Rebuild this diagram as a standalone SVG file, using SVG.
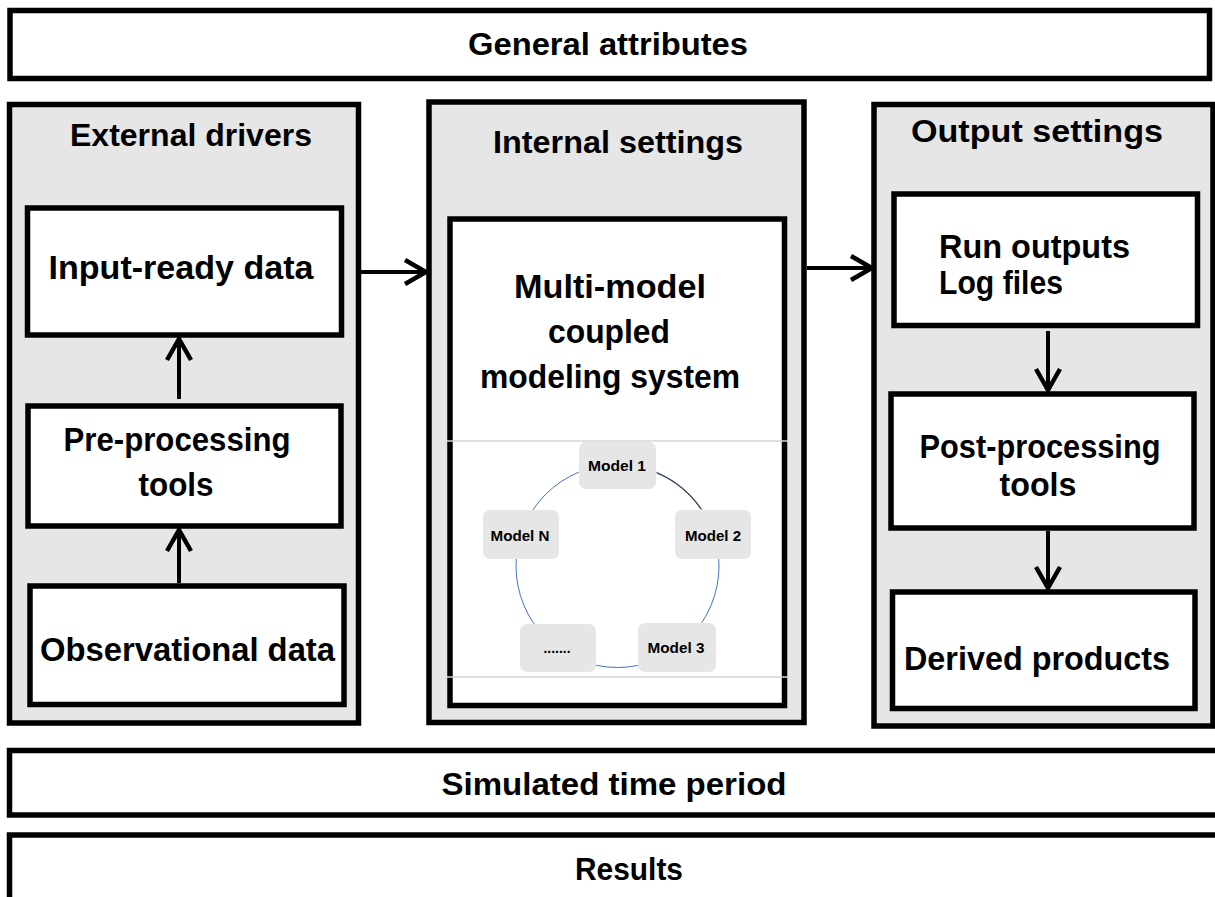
<svg xmlns="http://www.w3.org/2000/svg" width="1215" height="897" viewBox="0 0 1215 897">
<style>
.box{fill:#ffffff;stroke:#000;stroke-width:5.5}
.panel{fill:#e6e6e6;stroke:#000;stroke-width:5.5}
.t{font-family:"Liberation Sans",Arial,sans-serif;font-weight:bold;fill:#000;text-anchor:middle}
.ttl{font-size:31px}
.bt{font-size:34px}
.m{font-size:15px}
.mb{fill:#e6e6e6;stroke:none}
.conn{stroke:#000;stroke-width:4;fill:none;marker-end:url(#arr)}
.sep{stroke:#d4d4d4;stroke-width:1.5}
</style>
<defs>
<marker id="arr" markerUnits="userSpaceOnUse" markerWidth="32" markerHeight="32" viewBox="-28 -16 32 32" refX="0" refY="0" orient="auto">
<path d="M -21 -12 L 0 0 L -21 12" fill="none" stroke="#000" stroke-width="4.5" stroke-linejoin="miter"/>
</marker>
</defs>
<rect width="1215" height="897" fill="#fff"/>

<g id="general-attributes">
<rect class="box" x="10" y="10.5" width="1199.5" height="68"/>
<text class="t ttl" x="608" y="55" textLength="280" lengthAdjust="spacingAndGlyphs">General attributes</text>
</g>

<g id="external-drivers">
<rect class="panel" x="9.5" y="104.5" width="349" height="618.5"/>
<text class="t ttl" x="191" y="146" textLength="242" lengthAdjust="spacingAndGlyphs">External drivers</text>
</g>
<g id="input-ready-data">
<rect class="box" x="27.5" y="208" width="314" height="127"/>
<text class="t bt" x="181" y="279" textLength="265" lengthAdjust="spacingAndGlyphs">Input-ready data</text>
</g>
<g id="pre-processing-tools">
<rect class="box" x="28" y="406" width="313" height="120"/>
<text class="t bt" x="177" y="451" textLength="227" lengthAdjust="spacingAndGlyphs">Pre-processing</text>
<text class="t bt" x="176" y="496" textLength="75" lengthAdjust="spacingAndGlyphs">tools</text>
</g>
<g id="observational-data">
<rect class="box" x="30" y="586" width="314" height="118.5"/>
<text class="t bt" x="187.5" y="661" textLength="295" lengthAdjust="spacingAndGlyphs">Observational data</text>
</g>

<g id="internal-settings">
<rect class="panel" x="429" y="102" width="375" height="620.5"/>
<text class="t ttl" x="618" y="153" textLength="250" lengthAdjust="spacingAndGlyphs">Internal settings</text>
</g>
<g id="coupled-modeling-system">
<rect class="box" x="450" y="219" width="334.5" height="486.5"/>
<text class="t bt" x="610" y="298" textLength="192" lengthAdjust="spacingAndGlyphs">Multi-model</text>
<text class="t bt" x="609" y="343" textLength="122" lengthAdjust="spacingAndGlyphs">coupled</text>
<text class="t bt" x="610" y="388" textLength="260" lengthAdjust="spacingAndGlyphs">modeling system</text>
<line class="sep" x1="447" y1="441" x2="788" y2="441"/>
<line class="sep" x1="447" y1="677" x2="788" y2="677"/>
<circle cx="617.5" cy="566" r="101.5" fill="none" stroke="#4472c4" stroke-width="1"/>
<path d="M 657 473 A 101.5 101.5 0 0 1 701 509" fill="none" stroke="#404040" stroke-width="1.2"/>
</g>
<g id="model-1">
<rect class="mb" x="579" y="442" width="77" height="47" rx="7"/>
<text class="t m" x="617" y="471" textLength="58" lengthAdjust="spacingAndGlyphs">Model 1</text>
</g>
<g id="model-2">
<rect class="mb" x="675" y="510" width="76" height="49" rx="7"/>
<text class="t m" x="713" y="541" textLength="56" lengthAdjust="spacingAndGlyphs">Model 2</text>
</g>
<g id="model-3">
<rect class="mb" x="638" y="623" width="78" height="49" rx="7"/>
<text class="t m" x="676" y="653" textLength="57" lengthAdjust="spacingAndGlyphs">Model 3</text>
</g>
<g id="model-etc">
<rect class="mb" x="520" y="624" width="76" height="48" rx="7"/>
<text class="t m" x="557" y="653" textLength="27" lengthAdjust="spacingAndGlyphs">.......</text>
</g>
<g id="model-n">
<rect class="mb" x="483" y="510" width="76" height="49" rx="7"/>
<text class="t m" x="520" y="541" textLength="59" lengthAdjust="spacingAndGlyphs">Model N</text>
</g>

<g id="output-settings">
<rect class="panel" x="874" y="104.5" width="339" height="621.5"/>
<text class="t ttl" x="1037" y="142" textLength="252" lengthAdjust="spacingAndGlyphs">Output settings</text>
</g>
<g id="run-outputs-log-files">
<rect class="box" x="894" y="194" width="303.5" height="131.5"/>
<text class="t bt" x="939" y="258" style="text-anchor:start" textLength="191" lengthAdjust="spacingAndGlyphs">Run outputs</text>
<text class="t bt" x="939" y="294" style="text-anchor:start" textLength="124" lengthAdjust="spacingAndGlyphs">Log files</text>
</g>
<g id="post-processing-tools">
<rect class="box" x="891" y="394" width="303" height="134"/>
<text class="t bt" x="1040" y="458" textLength="241" lengthAdjust="spacingAndGlyphs">Post-processing</text>
<text class="t bt" x="1038" y="496" textLength="77" lengthAdjust="spacingAndGlyphs">tools</text>
</g>
<g id="derived-products">
<rect class="box" x="892.5" y="592" width="302.5" height="116.5"/>
<text class="t bt" x="1037" y="670" textLength="266" lengthAdjust="spacingAndGlyphs">Derived products</text>
</g>

<g id="simulated-time-period">
<rect class="box" x="9.5" y="750.5" width="1215" height="64.5"/>
<text class="t ttl" x="614" y="795" textLength="345" lengthAdjust="spacingAndGlyphs">Simulated time period</text>
</g>
<g id="results">
<rect class="box" x="9.5" y="835" width="1215" height="80"/>
<text class="t ttl" x="629" y="880" textLength="108" lengthAdjust="spacingAndGlyphs">Results</text>
</g>

<g id="connectors">
<line class="conn" x1="179" y1="399" x2="179" y2="339"/>
<line class="conn" x1="179" y1="583" x2="179" y2="530"/>
<line class="conn" x1="361" y1="272" x2="426" y2="272"/>
<line class="conn" x1="807" y1="268" x2="872" y2="268"/>
<line class="conn" x1="1048" y1="331" x2="1048" y2="390"/>
<line class="conn" x1="1048" y1="531" x2="1048" y2="588"/>
</g>
</svg>
